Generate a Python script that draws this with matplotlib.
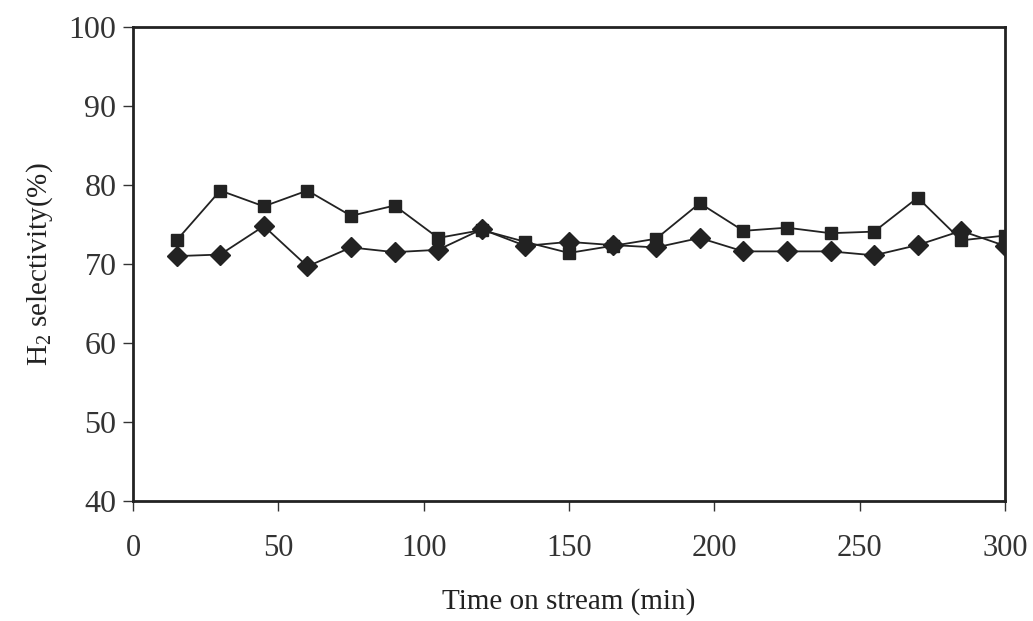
import matplotlib
matplotlib.use("Agg")
import matplotlib.pyplot as plt

# Datos
time_min = [15, 30, 45, 60, 75, 90, 105, 120, 135, 150,
            165, 180, 195, 210, 225, 240, 255, 270, 285, 300]
sel_square = [73.0, 79.3, 77.3, 79.3, 76.1, 77.4, 73.3, 74.3, 72.8, 71.4,
              72.3, 73.2, 77.7, 74.2, 74.6, 73.9, 74.1, 78.4, 73.0, 73.6]
sel_diamond = [71.0, 71.2, 74.8, 69.7, 72.1, 71.5, 71.8, 74.4, 72.3, 72.8,
               72.4, 72.1, 73.3, 71.6, 71.6, 71.6, 71.1, 72.4, 74.2, 72.3]
x_ticks = [0, 50, 100, 150, 200, 250, 300]
y_ticks = [40, 50, 60, 70, 80, 90, 100]

plt.rcParams["font.family"] = ["Liberation Serif", "DejaVu Serif"]
plt.rcParams["mathtext.fontset"] = "custom"
plt.rcParams["mathtext.rm"] = "Liberation Serif"

fig = plt.figure(figsize=(10.33, 6.21), dpi=100)
ax = fig.add_axes([0.1288, 0.1932, 0.844, 0.7633])

ax.plot(time_min, sel_square, color="#222222", lw=1.3, marker="s",
        markersize=9, markerfacecolor="#222222", markeredgecolor="#222222")
ax.plot(time_min, sel_diamond, color="#222222", lw=1.3, marker="D",
        markersize=10, markerfacecolor="#222222", markeredgecolor="#222222")

ax.set_xlim(0, 300)
ax.set_ylim(40, 100)
ax.set_xticks(x_ticks)
ax.set_yticks(y_ticks)

for s in ax.spines.values():
    s.set_linewidth(2)
    s.set_color("#222222")

ax.tick_params(axis="x", direction="out", length=7, width=1, pad=17,
               labelsize=22, colors="#333333")
ax.tick_params(axis="y", direction="out", length=7, width=1, pad=5,
               labelsize=23, colors="#333333")

ax.set_xlabel("Time on stream (min)", fontsize=21, labelpad=18, color="#222222")
ax.set_ylabel(r"H$_\mathrm{2}$ selectivity(%)", fontsize=21, labelpad=10, color="#222222")

fig.savefig("out.png", dpi=100)
plt.close(fig)
